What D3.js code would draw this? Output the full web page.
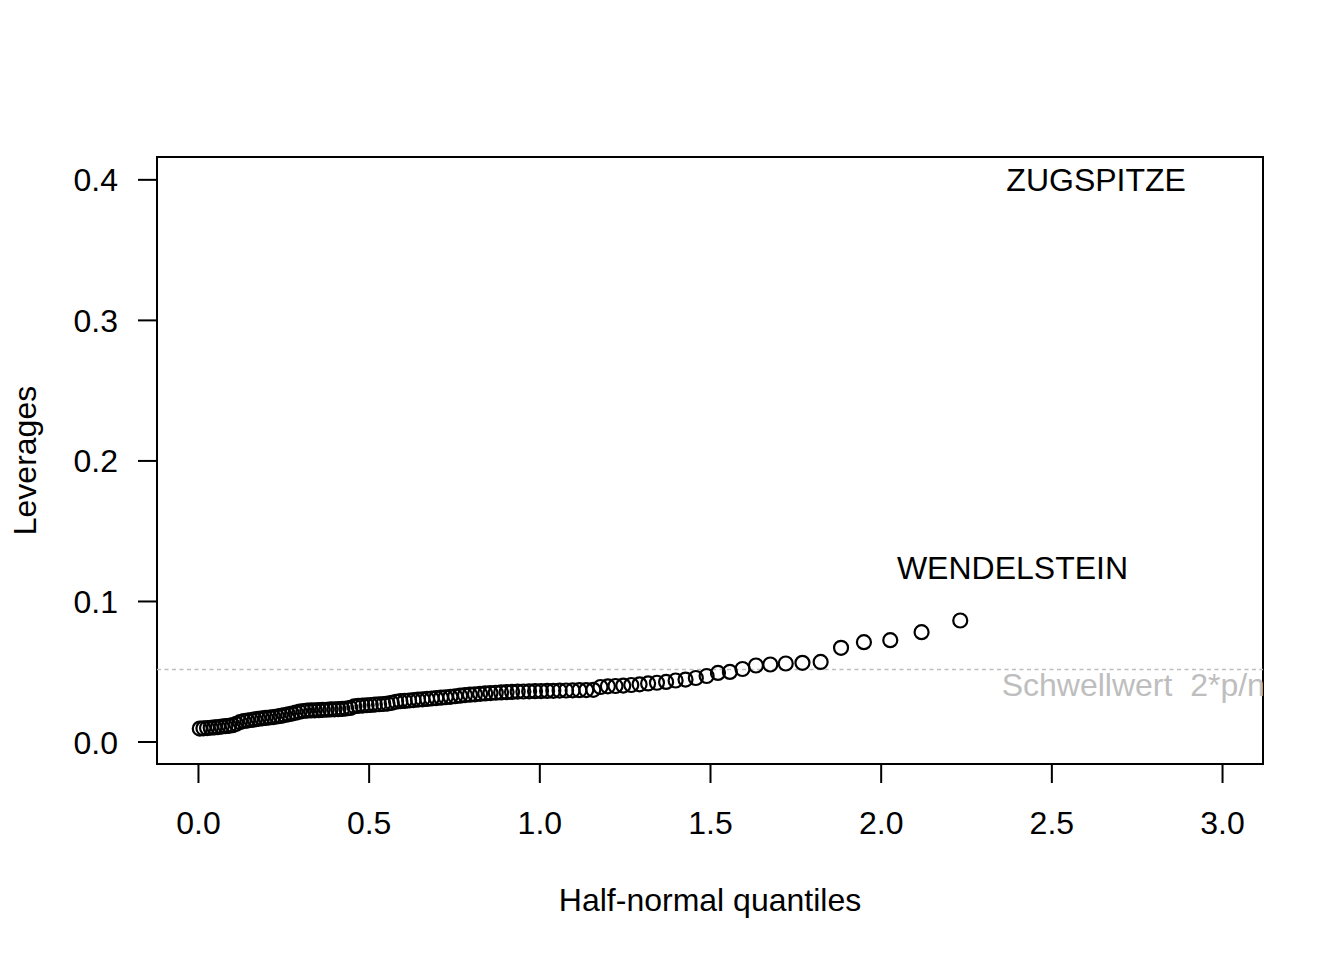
<!DOCTYPE html>
<html>
<head>
<meta charset="utf-8">
<script src="https://cdn.jsdelivr.net/npm/d3@7"></script>
<style>
  body { margin: 0; background: #fff; }
  text { font-family: "Liberation Sans", Arial, Helvetica, sans-serif; }
</style>
</head>
<body>
<div id="chart"></div>
<script>
// half-normal quantiles (sorted), one per observation
var quantiles = [
  0.0053, 0.0160, 0.0267, 0.0373, 0.0480, 0.0587, 0.0694, 0.0801, 0.0908, 0.1015,
  0.1122, 0.1230, 0.1337, 0.1445, 0.1553, 0.1661, 0.1769, 0.1878, 0.1986, 0.2095,
  0.2204, 0.2314, 0.2424, 0.2533, 0.2644, 0.2754, 0.2865, 0.2977, 0.3088, 0.3200,
  0.3313, 0.3426, 0.3539, 0.3653, 0.3767, 0.3882, 0.3997, 0.4113, 0.4229, 0.4346,
  0.4464, 0.4582, 0.4701, 0.4820, 0.4940, 0.5061, 0.5183, 0.5305, 0.5428, 0.5552,
  0.5677, 0.5803, 0.5930, 0.6057, 0.6186, 0.6316, 0.6446, 0.6578, 0.6711, 0.6845,
  0.6981, 0.7118, 0.7256, 0.7395, 0.7536, 0.7679, 0.7823, 0.7968, 0.8116, 0.8265,
  0.8416, 0.8569, 0.8724, 0.8881, 0.9040, 0.9202, 0.9366, 0.9533, 0.9702, 0.9875,
  1.0050, 1.0228, 1.0410, 1.0595, 1.0784, 1.0976, 1.1173, 1.1375, 1.1581, 1.1792,
  1.2008, 1.2231, 1.2459, 1.2694, 1.2937, 1.3187, 1.3446, 1.3714, 1.3993, 1.4283,
  1.4585, 1.4901, 1.5233, 1.5582, 1.5952, 1.6346, 1.6766, 1.7219, 1.7708, 1.8241,
  1.8839, 1.9509, 2.0281, 2.1198, 2.2331, 2.3861, 2.6312
];

// sorted leverages
var leverages = [
  0.0092, 0.0094, 0.0096, 0.0098, 0.0100, 0.0103, 0.0106, 0.0109, 0.0112, 0.0116,
  0.0126, 0.0138, 0.0145, 0.0149, 0.0153, 0.0157, 0.0161, 0.0165, 0.0168, 0.0171,
  0.0174, 0.0178, 0.0182, 0.0188, 0.0193, 0.0199, 0.0205, 0.0212, 0.0217, 0.0220,
  0.0221, 0.0222, 0.0223, 0.0225, 0.0226, 0.0228, 0.0229, 0.0230, 0.0232, 0.0235,
  0.0239, 0.0250, 0.0254, 0.0256, 0.0258, 0.0260, 0.0263, 0.0265, 0.0267, 0.0270,
  0.0275, 0.0283, 0.0287, 0.0289, 0.0292, 0.0295, 0.0298, 0.0300, 0.0303, 0.0306,
  0.0309, 0.0312, 0.0315, 0.0318, 0.0322, 0.0326, 0.0330, 0.0333, 0.0336, 0.0339,
  0.0342, 0.0345, 0.0347, 0.0349, 0.0351, 0.0353, 0.0355, 0.0356, 0.0357, 0.0358,
  0.0359, 0.0360, 0.0361, 0.0362, 0.0363, 0.0364, 0.0365, 0.0366, 0.0368, 0.0388,
  0.0393, 0.0395, 0.0398, 0.0402, 0.0407, 0.0413, 0.0418, 0.0424, 0.0434, 0.0441,
  0.0452, 0.0466, 0.0488, 0.0495, 0.0516, 0.0541, 0.0548, 0.0555, 0.0560, 0.0566,
  0.0667, 0.0707, 0.0721, 0.0778, 0.0861, 0.1238, 0.3999
];

// the largest ones get a name instead of a circle
var labelNames = ["WENDELSTEIN", "ZUGSPITZE"];

var xTicks = [0, 0.5, 1, 1.5, 2, 2.5, 3];
var yTicks = [0, 0.1, 0.2, 0.3, 0.4];

// threshold 2*p/n
var nParams = 3;
var nObs = quantiles.length;
var threshold = 2 * nParams / nObs;

var margin = { left:157, right:81, top:157, bottom:196 };

var width = 1344 - margin.left - margin.right,
    height = 960 - margin.top - margin.bottom;

var svg = d3.select("#chart")
    .append("svg")
        .attr("width", width + margin.left + margin.right)
        .attr("height", height + margin.top + margin.bottom)
        .append("g")
          .attr("transform", "translate(" + margin.left + ", " + margin.top + ")");

var data = quantiles.map(function(q, i) {
    return { q: q, h: leverages[i] };
});
var nLab = labelNames.length;
var points = data.slice(0, data.length - nLab);
var named = data.slice(data.length - nLab).map(function(d, i) {
    return { q: d.q, h: d.h, name: labelNames[i] };
});

// X Scale (R style: 4% extension of 0..3)
var xLim = [0, 3];
var xPad = (xLim[1] - xLim[0]) * 0.04;
var x = d3.scaleLinear()
    .domain([xLim[0] - xPad, xLim[1] + xPad])
    .range([0, width]);

// Y Scale
var yMax = d3.max(leverages);
var yPad = yMax * 0.04;
var y = d3.scaleLinear()
    .domain([0 - yPad, yMax + yPad])
    .range([height, 0]);

svg.append("clipPath")
    .attr("id", "plotclip")
    .append("rect")
        .attr("width", width)
        .attr("height", height);

// X Axis
var xAxisCall = d3.axisBottom(x)
    .tickValues(xTicks)
    .tickSize(19)
    .tickFormat(d3.format(".1f"));
var xAxisGroup = svg.append("g")
    .attr("class", "x axis")
    .attr("transform", "translate(0," + height + ")")
    .call(xAxisCall);
xAxisGroup.select(".domain").remove();
xAxisGroup.selectAll("line").attr("stroke", "#000").attr("stroke-width", 2);
xAxisGroup.selectAll("text")
    .attr("y", 70)
    .attr("dy", null)
    .attr("font-size", "32px")
    .attr("fill", "#000")
    .attr("font-family", "Liberation Sans, Arial, sans-serif");

// Y Axis
var yAxisCall = d3.axisLeft(y)
    .tickValues(yTicks)
    .tickSize(19)
    .tickPadding(20)
    .tickFormat(d3.format(".1f"));
var yAxisGroup = svg.append("g")
    .attr("class", "y axis")
    .call(yAxisCall);
yAxisGroup.select(".domain").remove();
yAxisGroup.selectAll("line").attr("stroke", "#000").attr("stroke-width", 2);
yAxisGroup.selectAll("text")
    .attr("dy", "0.36em")
    .attr("font-size", "32px")
    .attr("fill", "#000")
    .attr("font-family", "Liberation Sans, Arial, sans-serif");

// box
svg.append("rect")
    .attr("width", width)
    .attr("height", height)
    .attr("fill", "none")
    .attr("stroke", "#000")
    .attr("stroke-width", 2);

// X Label
svg.append("text")
    .attr("x", width / 2)
    .attr("y", height + 147)
    .attr("font-size", "32px")
    .attr("text-anchor", "middle")
    .text("Half-normal quantiles");

// Y Label
svg.append("text")
    .attr("x", -(height / 2))
    .attr("y", -121)
    .attr("font-size", "32px")
    .attr("text-anchor", "middle")
    .attr("transform", "rotate(-90)")
    .text("Leverages");

// threshold line + label
var plotArea = svg.append("g").attr("clip-path", "url(#plotclip)");

plotArea.append("line")
    .attr("x1", 0)
    .attr("x2", width)
    .attr("y1", y(threshold))
    .attr("y2", y(threshold))
    .attr("stroke", "#bebebe")
    .attr("stroke-width", 1.5)
    .attr("stroke-dasharray", "4,3.5");

plotArea.append("text")
    .attr("x", x(2.74))
    .attr("y", y(threshold) + 27)
    .attr("text-anchor", "middle")
    .attr("font-size", "32px")
    .attr("fill", "#bebebe")
    .attr("xml:space", "preserve")
    .style("white-space", "pre")
    .text("Schwellwert  2*p/n");

// points
svg.selectAll("circle")
    .data(points)
    .enter()
    .append("circle")
        .attr("cx", function(d){ return x(d.q); })
        .attr("cy", function(d){ return y(d.h); })
        .attr("r", 7)
        .attr("fill", "none")
        .attr("stroke", "#000")
        .attr("stroke-width", 2.2);

// named points
svg.selectAll(".lab")
    .data(named)
    .enter()
    .append("text")
        .attr("class", "lab")
        .attr("x", function(d){ return x(d.q); })
        .attr("y", function(d){ return y(d.h); })
        .attr("dy", "0.37em")
        .attr("text-anchor", "middle")
        .attr("font-size", "32px")
        .text(function(d){ return d.name; });
</script>
</body>
</html>
